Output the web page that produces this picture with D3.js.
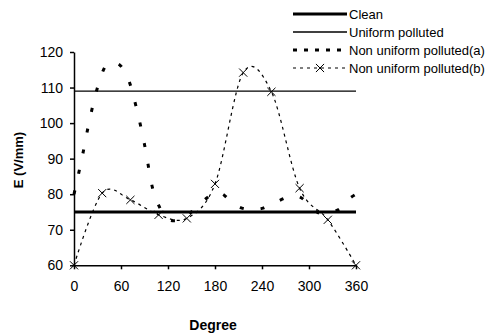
<!DOCTYPE html>
<html>
<head>
<meta charset="utf-8">
<script src="https://cdn.jsdelivr.net/npm/d3@7"></script>
<style>
  body { margin: 0; background: #fff; }
  svg text { font-family: "Liberation Sans", Arial, sans-serif; fill: #000; }
</style>
</head>
<body>
<div id="container"></div>
<script>
// degrees and values
const degreesA = [0,10,20,30,40,50,60,70,80,90,100,110,120,130,140,150,160,170,180,190,200,210,220,230,240,250,260,270,280,290,300,310,320,330,340,350,360];
const nonUniformA = [80,90,101,110,116,117,116,112,104,94,82,76,73,72.5,73,75,77,79,80.5,80,78,76.5,75.8,75.8,76,77,78,79,79.5,79,77,75,74.5,75,76,78.5,80];
const degreesB = [0,36,72,108,144,180,216,252,288,324,360];
const nonUniformB = [60,80.3,78.4,74.2,73.2,82.9,114.2,108.8,81.7,72.8,60];
const degreesFlat = [0,360];
const clean = [75,75];
const uniform = [109,109];
const xTicks = [0,60,120,180,240,300,360];
const yTicks = [60,70,80,90,100,110,120];
const legendLabels = ["Clean","Uniform polluted","Non uniform polluted(a)","Non uniform polluted(b)"];

const W = 493, H = 334;
const svg = d3.select("#container").append("svg")
  .attr("width", W).attr("height", H);

const x = d3.scaleLinear().domain([0,360]).range([74,356]);
const y = d3.scaleLinear().domain([60,120]).range([265.3,52]);

// axes
svg.append("g")
  .attr("transform", `translate(0,${y(60)})`)
  .call(d3.axisBottom(x).tickValues(xTicks).tickSize(4).tickSizeOuter(0).tickPadding(12))
  .call(g => g.select(".domain").attr("stroke", "#000").attr("stroke-width", 1.5))
  .call(g => g.selectAll(".tick line").attr("stroke", "#000").attr("stroke-width", 1.5))
  .call(g => g.selectAll(".tick text").style("font-size", "14px"));

svg.append("g")
  .attr("transform", `translate(${x(0)},0)`)
  .call(d3.axisLeft(y).tickValues(yTicks).tickSize(4).tickSizeOuter(0).tickPadding(7))
  .call(g => g.select(".domain").attr("stroke", "#000").attr("stroke-width", 1.5))
  .call(g => g.selectAll(".tick line").attr("stroke", "#000").attr("stroke-width", 1.5))
  .call(g => g.selectAll(".tick text").style("font-size", "14px"));

svg.append("text")
  .attr("x", 213).attr("y", 330)
  .attr("text-anchor", "middle")
  .style("font-size", "14px").style("font-weight", "bold")
  .text("Degree");

svg.append("text")
  .attr("transform", "translate(23,160) rotate(-90)")
  .attr("text-anchor", "middle")
  .style("font-size", "13px").style("font-weight", "bold")
  .text("E (V/mm)");

const line = d3.line().x(d => x(d[0])).y(d => y(d[1]));
const smooth = d3.line().x(d => x(d[0])).y(d => y(d[1])).curve(d3.curveCardinal.tension(0));

// Clean & uniform
svg.append("path")
  .datum(d3.zip(degreesFlat, clean))
  .attr("d", line).attr("fill", "none")
  .attr("stroke", "#000").attr("stroke-width", 3.2);

svg.append("path")
  .datum(d3.zip(degreesFlat, uniform))
  .attr("d", line).attr("fill", "none")
  .attr("stroke", "#000").attr("stroke-width", 1.3);

// Non uniform (a)
svg.append("path")
  .datum(d3.zip(degreesA, nonUniformA))
  .attr("d", smooth).attr("fill", "none")
  .attr("stroke", "#000").attr("stroke-width", 3)
  .attr("stroke-dasharray", "4,17");

// Non uniform (b)
const dataB = d3.zip(degreesB, nonUniformB);
svg.append("path")
  .datum(dataB)
  .attr("d", smooth).attr("fill", "none")
  .attr("stroke", "#000").attr("stroke-width", 1.2)
  .attr("stroke-dasharray", "3,4");

const sym = d3.symbol().type(d3.symbolTimes).size(45);
svg.selectAll(".mk")
  .data(dataB)
  .join("path")
  .attr("transform", d => `translate(${x(d[0])},${y(d[1])})`)
  .attr("d", sym)
  .attr("fill", "none")
  .attr("stroke", "#000").attr("stroke-width", 1);

// legend
const lg = svg.append("g").attr("transform", "translate(293,0)");
const rowY = [14, 32, 50, 68];
const styles = [
  {w: 3.2, dash: null},
  {w: 1.3, dash: null},
  {w: 3, dash: "4,7"},
  {w: 1.2, dash: "3,4"}
];
legendLabels.forEach((lab, i) => {
  lg.append("line")
    .attr("x1", 0).attr("x2", 54)
    .attr("y1", rowY[i]).attr("y2", rowY[i])
    .attr("stroke", "#000")
    .attr("stroke-width", styles[i].w)
    .attr("stroke-dasharray", styles[i].dash);
  lg.append("text")
    .attr("x", 56).attr("y", rowY[i])
    .attr("dy", "0.35em")
    .style("font-size", "13px")
    .text(lab);
});
lg.append("path")
  .attr("transform", `translate(27,${rowY[3]})`)
  .attr("d", sym)
  .attr("fill", "none")
  .attr("stroke", "#000").attr("stroke-width", 1);
</script>
</body>
</html>
